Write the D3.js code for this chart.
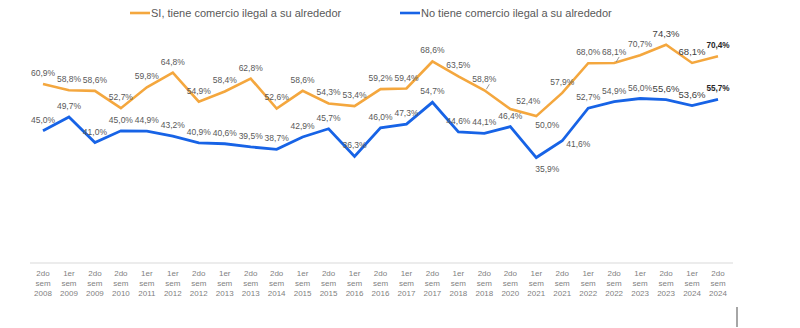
<!DOCTYPE html>
<html>
<head>
<meta charset="utf-8">
<script src="https://cdn.jsdelivr.net/npm/d3@7"></script>
<style>
body{margin:0;background:#fff;}
svg{display:block;font-family:"Liberation Sans",Arial,sans-serif;}
</style>
</head>
<body>
<script>
// semesters on the x axis
var periods = ["2do sem 2008","1er sem 2009","2do sem 2009","2do sem 2010","1er sem 2011","1er sem 2012",
"2do sem 2012","1er sem 2013","2do sem 2013","2do sem 2014","1er sem 2015","2do sem 2015","1er sem 2016",
"2do sem 2016","1er sem 2017","2do sem 2017","1er sem 2018","2do sem 2018","2do sem 2020","1er sem 2021",
"2do sem 2021","1er sem 2022","2do sem 2022","1er sem 2023","2do sem 2023","1er sem 2024","2do sem 2024"];

// % with illegal trade around them
var conComercio = [60.9,58.8,58.6,52.7,59.8,64.8,54.9,58.4,62.8,52.6,58.6,54.3,53.4,59.2,59.4,68.6,63.5,58.8,
52.4,50.0,57.9,68.0,68.1,70.7,74.3,68.1,70.4];
// % without illegal trade around them
var sinComercio = [45.0,49.7,41.0,45.0,44.9,43.2,40.9,40.6,39.5,38.7,42.9,45.7,36.3,46.0,47.3,54.7,44.6,44.1,
46.4,35.9,41.6,52.7,54.9,56.0,55.6,53.6,55.7];

var seriesNames = ["SI, tiene comercio ilegal a su alrededor","No tiene comercio ilegal a su alrededor"];

var width = 800, height = 328;
var orange = "#F4A73E", blue = "#1763E6";

var svg = d3.select("body").append("svg")
  .attr("width", width).attr("height", height);

var x = d3.scalePoint().domain(periods).range([43, 718]);
var y = d3.scaleLinear().domain([0, 80]).range([263, 28]);

// baseline axis
svg.append("line")
  .attr("x1", 30).attr("x2", 733)
  .attr("y1", y(0)).attr("y2", y(0))
  .attr("stroke", "#d9d9d9").attr("stroke-width", 1);

// three-line tick labels
var ticks = svg.append("g").selectAll("text")
  .data(periods).enter().append("text")
  .attr("x", function(d){ return x(d); })
  .attr("y", 276)
  .attr("text-anchor", "middle")
  .attr("font-size", "8px")
  .attr("fill", "#7f7f7f");
ticks.each(function(d){
  var parts = d.split(" ");
  var t = d3.select(this);
  t.append("tspan").attr("x", x(d)).attr("dy", 0).text(parts[0]);
  t.append("tspan").attr("x", x(d)).attr("dy", 10).text(parts[1]);
  t.append("tspan").attr("x", x(d)).attr("dy", 10).text(parts[2]);
});

var line = d3.line()
  .x(function(d, i){ return x(periods[i]); })
  .y(function(d){ return y(d); });

svg.append("path").datum(conComercio)
  .attr("d", line).attr("fill", "none")
  .attr("stroke", orange).attr("stroke-width", 2.6)
  .attr("stroke-linejoin", "miter");

svg.append("path").datum(sinComercio)
  .attr("d", line).attr("fill", "none")
  .attr("stroke", blue).attr("stroke-width", 2.8)
  .attr("stroke-linejoin", "miter");

// where each label sits: a = above, ar = above right, r = right, b = below
var posCon = ["a","a","a","a","a","a","a","a","a","a","a","a","a","a","a","a","a","a","ar","b","a","a","a","a","a","a","a"];
var posSin = ["a","a","a","a","a","a","a","a","a","a","a","a","a","a","a","a","a","a","a","b","r","a","a","a","a","a","a"];
var offsets = { a: [0, -8], ar: [18, -5], r: [16, 6], b: [11, 12] };

var fmt = function(v){ return v.toFixed(1).replace(".", ",") + "%"; };

function drawLabels(values, pos, bFix){
  var n = values.length;
  svg.append("g").selectAll("text")
    .data(values).enter().append("text")
    .attr("x", function(d, i){ return x(periods[i]) + offsets[pos[i]][0]; })
    .attr("y", function(d, i){
      var dy = offsets[pos[i]][1];
      if (pos[i] == "b") dy += bFix;
      return y(d) + dy;
    })
    .attr("text-anchor", "middle")
    .attr("font-size", function(d, i){
      if (i == n - 1) return "8.2px";
      if (i >= n - 3) return "9.5px";
      return "8.5px";
    })
    .attr("font-weight", function(d, i){ return i == n - 1 ? "bold" : "normal"; })
    .attr("fill", function(d, i){ return i >= n - 1 ? "#262626" : (i >= n - 3 ? "#404040" : "#595959"); })
    .text(fmt);
}
drawLabels(conComercio, posCon, 0);
drawLabels(sinComercio, posSin, 2);

// 74,3% is set a little larger too
svg.selectAll("g text").filter(function(d){ return d === 74.3; })
  .attr("font-size", "9.5px").attr("fill", "#404040");

// small leader lines for the crowded labels
[17, 22].forEach(function(i){
  var px = x(periods[i]), py = y(conComercio[i]);
  svg.append("line")
    .attr("x1", px + 2).attr("y1", py - 1)
    .attr("x2", px + 5).attr("y2", py - 6)
    .attr("stroke", "#7f7f7f").attr("stroke-width", 0.8);
});

// legend
var legend = svg.append("g");
[[130, orange, seriesNames[0]], [400, blue, seriesNames[1]]].forEach(function(l){
  legend.append("line")
    .attr("x1", l[0]).attr("x2", l[0] + 20)
    .attr("y1", 13).attr("y2", 13)
    .attr("stroke", l[1]).attr("stroke-width", 2.6);
  legend.append("text")
    .attr("x", l[0] + 21).attr("y", 17)
    .attr("font-size", "11px").attr("fill", "#595959")
    .text(l[2]);
});

// scroll marker at the bottom
svg.append("rect")
  .attr("x", 736).attr("y", 307).attr("width", 2).attr("height", 20)
  .attr("fill", "#a6a6a6");
</script>
</body>
</html>
